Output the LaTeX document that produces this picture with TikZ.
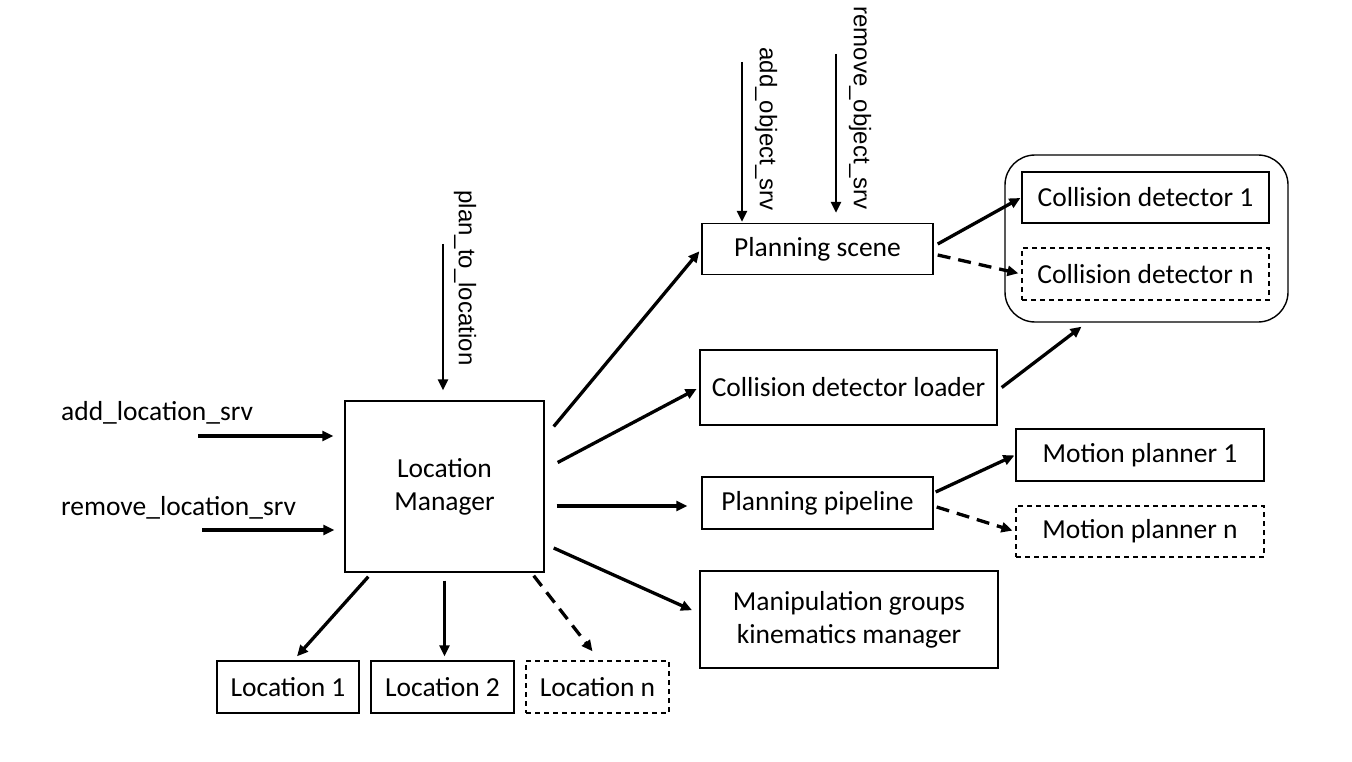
\documentclass[tikz,border=0pt]{standalone}
\usepackage{fontspec}
\setmainfont{Carlito}
\newfontfamily\srvfont{Liberation Sans}
\usetikzlibrary{arrows.meta}

\begin{document}
\begin{tikzpicture}[x=1pt,y=-1pt,
  box/.style={draw,line width=1.4pt,inner sep=0pt,align=center,font=\fontsize{27.5}{33}\selectfont},
  dbox/.style={box,dash pattern=on 5pt off 4pt},
  arr/.style={line width=3.3pt,-{Triangle[length=11pt,width=10pt]}},
  darr/.style={arr,dash pattern=on 13pt off 8pt},
  srvarr/.style={arr,line width=2.8pt},
  srv/.style={rotate=-90,inner sep=0pt,font=\srvfont\fontsize{24}{28}\selectfont},
  lbl/.style={anchor=west,inner sep=0pt,font=\fontsize{27.5}{33}\selectfont}]
\useasboundingbox (0,0) rectangle (1352,762);

% location side
\node[box,minimum width=199,minimum height=171] (lm) at (444.5,486.5) {Location\\Manager};
\node[box,minimum width=142,minimum height=52] (loc1) at (288,687) {Location 1};
\node[box,minimum width=143,minimum height=52] (loc2) at (442.5,687) {Location 2};
\node[dbox,minimum width=143,minimum height=52] (locn) at (597.5,687) {Location n};

\node[lbl] (addloc) at (61,413) {add\_location\_srv};
\node[lbl] (remloc) at (61,508) {remove\_location\_srv};
\coordinate (addlocin) at (198,436);
\coordinate (remlocin) at (202,530);
\draw[arr,shorten >=11pt] (addlocin) -- (lm.west |- addlocin);
\draw[arr,shorten >=10pt] (remlocin) -- (lm.west |- remlocin);

\node[srv] (plan) at (465,278) {plan\_to\_location};
\coordinate (planin) at (443,244);
\draw[srvarr,shorten >=10pt] (planin) -- (planin |- lm.north);

\draw[arr] ([xshift=24pt,yshift=-4pt]lm.south west) -- ([xshift=9pt,yshift=4pt]loc1.north);
\draw[arr,shorten <=8pt,shorten >=4pt] (lm.south) -- (lm.south |- loc2.north);
\draw[darr] ([xshift=-11pt,yshift=-3pt]lm.south east) -- ([xshift=-5pt,yshift=9pt]locn.north);

% planning side
\node[box,minimum width=231,minimum height=51] (ps) at (817.5,249) {Planning scene};
\node[box,minimum width=297,minimum height=75] (cdl) at (848.5,387.5) {Collision detector loader};
\node[box,minimum width=231,minimum height=52] (pp) at (817.5,503) {Planning pipeline};
\node[box,minimum width=298,minimum height=97] (mgk) at (849,619.5) {Manipulation groups\\kinematics manager};

\node[draw,line width=1.4pt,rounded corners=30pt,minimum width=283,minimum height=167] (grp) at (1146.5,238.5) {};
\node[box,minimum width=247,minimum height=51] (cd1) at (1145.5,197.5) {Collision detector 1};
\node[dbox,minimum width=247,minimum height=52] (cdn) at (1145.5,274) {Collision detector n};
\node[box,minimum width=248,minimum height=52] (mp1) at (1140,455) {Motion planner 1};
\node[dbox,minimum width=248,minimum height=51] (mpn) at (1140,531.5) {Motion planner n};

\node[srv] (addobj) at (766,129) {add\_object\_srv};
\node[srv] (remobj) at (860,108) {remove\_object\_srv};
\coordinate (addobjin) at (742,62);
\coordinate (remobjin) at (836,54);
\draw[srvarr,shorten >=1pt] (addobjin) -- (addobjin |- ps.north);
\draw[srvarr,shorten >=10pt] (remobjin) -- (remobjin |- ps.north);

\draw[arr,shorten >=3pt] ([xshift=9pt,yshift=60pt]lm.east) -- (ps.west);
\draw[arr,shorten >=3pt] ([xshift=13pt,yshift=24pt]lm.east) -- (cdl.west);
\draw[arr,shorten >=14pt] ([xshift=12pt,yshift=-19.5pt]lm.east) -- ([yshift=-3pt]pp.west);
\draw[arr,shorten >=8pt] ([xshift=9pt,yshift=-61.5pt]lm.east) -- ([yshift=6pt]mgk.west);

\draw[arr,shorten >=1pt] ([xshift=4pt,yshift=5pt]ps.east) -- (cd1.west);
\draw[darr,shorten >=3pt] ([xshift=4pt,yshift=-6pt]ps.east) -- (cdn.west);
\draw[arr] ([xshift=4pt]cdl.east) -- ([xshift=-65pt,yshift=-4pt]grp.south);
\draw[arr,shorten >=1pt] ([xshift=2pt,yshift=11pt]pp.east) -- (mp1.west);
\draw[darr,shorten >=3pt] ([xshift=3pt,yshift=-4pt]pp.east) -- (mpn.west);
\end{tikzpicture}
\end{document}
